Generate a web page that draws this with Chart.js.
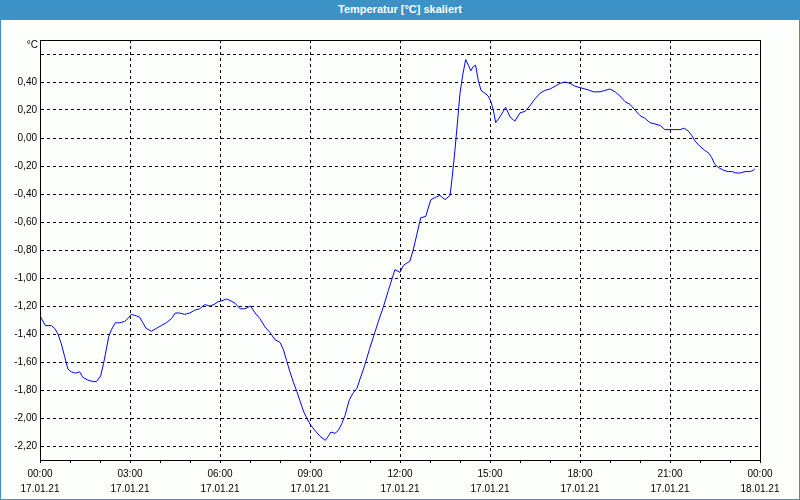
<!DOCTYPE html>
<html>
<head>
<meta charset="utf-8">
<script src="https://cdn.jsdelivr.net/npm/chart.js@4.4.1/dist/chart.umd.min.js"></script>
<style>
    body { margin: 0; }
    #frame {
        position: absolute; left: 0; top: 0;
        width: 798px; height: 499px;
        border: 1px solid #3c91c6; border-top: 0;
        background: #fcfffc;
    }
    #bar {
        height: 20px; background: #3c91c6; color: #fff;
        font: bold 11px "Liberation Sans", Arial, sans-serif;
        text-align: center; line-height: 19px;
    }
    #wrap { position: relative; width: 798px; height: 479px; }
</style>
</head>
<body>
<div id="frame">
    <div id="bar">Temperatur [°C] skaliert</div>
    <div id="wrap"><canvas id="tempChart" width="798" height="479"></canvas></div>
</div>
<script>
const hours = [
    0.00, 0.18, 0.38, 0.49, 0.60, 0.71, 0.82, 0.93, 1.04, 1.18, 1.32, 1.43, 1.60, 1.77, 1.88,
    2.02, 2.12, 2.21, 2.29, 2.38, 2.51, 2.66, 2.82, 2.93, 3.04, 3.21, 3.32, 3.43, 3.54, 3.71,
    3.88, 4.04, 4.21, 4.38, 4.51, 4.66, 4.82, 4.99, 5.16, 5.32, 5.49, 5.66, 5.80, 5.93, 6.10,
    6.21, 6.33, 6.50, 6.67, 6.83, 7.02, 7.17, 7.33, 7.50, 7.67, 7.83, 8.00, 8.11, 8.22, 8.33,
    8.44, 8.56, 8.67, 8.78, 8.89, 9.02, 9.17, 9.33, 9.51, 9.61, 9.70, 9.83, 9.94, 10.06, 10.17,
    10.31, 10.44, 10.56, 10.67, 10.83, 10.98, 11.13, 11.28, 11.44, 11.61, 11.83, 12.00, 12.11, 12.33, 12.44,
    12.56, 12.69, 12.86, 12.94, 13.03, 13.22, 13.33, 13.50, 13.67, 13.74, 13.83, 13.91, 14.00, 14.09, 14.19,
    14.28, 14.36, 14.44, 14.52, 14.61, 14.70, 14.83, 14.94, 15.03, 15.11, 15.19, 15.33, 15.44, 15.52, 15.67,
    15.83, 16.00, 16.17, 16.33, 16.50, 16.67, 16.83, 17.00, 17.17, 17.33, 17.50, 17.67, 17.83, 18.00, 18.17,
    18.33, 18.44, 18.67, 18.83, 19.00, 19.17, 19.33, 19.50, 19.67, 19.83, 20.00, 20.17, 20.33, 20.50, 20.67,
    20.83, 21.00, 21.17, 21.33, 21.48, 21.61, 21.72, 21.83, 22.00, 22.17, 22.30, 22.39, 22.50, 22.61, 22.78,
    22.94, 23.08, 23.19, 23.33, 23.50, 23.67, 23.78, 23.83
];

const temps = [
    -1.27, -1.34, -1.34, -1.36, -1.40, -1.47, -1.56, -1.65, -1.67, -1.68, -1.67, -1.71, -1.73, -1.74, -1.74,
    -1.70, -1.61, -1.51, -1.42, -1.37, -1.32, -1.32, -1.31, -1.29, -1.26, -1.27, -1.28, -1.32, -1.36, -1.38,
    -1.36, -1.34, -1.32, -1.29, -1.25, -1.25, -1.26, -1.25, -1.23, -1.22, -1.19, -1.20, -1.19, -1.17, -1.16,
    -1.15, -1.16, -1.18, -1.22, -1.22, -1.20, -1.25, -1.29, -1.35, -1.39, -1.44, -1.46, -1.51, -1.59, -1.67,
    -1.74, -1.81, -1.88, -1.95, -2.00, -2.05, -2.09, -2.13, -2.16, -2.13, -2.10, -2.11, -2.09, -2.04, -1.98,
    -1.87, -1.82, -1.79, -1.72, -1.62, -1.51, -1.41, -1.31, -1.21, -1.09, -0.94, -0.96, -0.91, -0.88, -0.80,
    -0.69, -0.57, -0.56, -0.50, -0.44, -0.42, -0.41, -0.44, -0.41, -0.28, -0.09, 0.10, 0.32, 0.45, 0.56,
    0.52, 0.48, 0.51, 0.52, 0.41, 0.34, 0.32, 0.30, 0.26, 0.20, 0.11, 0.15, 0.19, 0.22, 0.15,
    0.12, 0.18, 0.19, 0.23, 0.28, 0.32, 0.34, 0.35, 0.37, 0.39, 0.40, 0.39, 0.37, 0.36, 0.35,
    0.34, 0.33, 0.33, 0.34, 0.35, 0.33, 0.30, 0.26, 0.24, 0.20, 0.16, 0.14, 0.11, 0.10, 0.09,
    0.06, 0.06, 0.06, 0.06, 0.07, 0.05, 0.02, -0.02, -0.06, -0.09, -0.11, -0.14, -0.19, -0.21, -0.23,
    -0.24, -0.24, -0.25, -0.25, -0.24, -0.24, -0.23, -0.22
];

const yTicks = [-2.2, -2.0, -1.8, -1.6, -1.4, -1.2, -1.0, -0.8, -0.6, -0.4, -0.2, 0, 0.2, 0.4, 0.6];
const xTickHours = [0, 1, 2, 3, 4, 5, 6, 7, 8, 9, 10, 11, 12, 13, 14, 15, 16, 17, 18, 19, 20, 21, 22, 23, 24];
const xTimeLabels = ['00:00', '03:00', '06:00', '09:00', '12:00', '15:00', '18:00', '21:00', '00:00'];
const xDateLabels = ['17.01.21', '17.01.21', '17.01.21', '17.01.21', '17.01.21', '17.01.21', '17.01.21', '17.01.21', '18.01.21'];

const tickFont = { family: '"Liberation Sans", Arial, sans-serif', size: 10, lineHeight: 1.55 };

// frame round the plot + unit label
const framePlugin = {
    id: 'frame',
    afterDraw(chart) {
        const { ctx, chartArea: a } = chart;
        ctx.save();
        ctx.strokeStyle = '#000';
        ctx.lineWidth = 1;
        ctx.strokeRect(a.left + 0.5, a.top + 0.5, a.right - a.left, a.bottom - a.top);
        ctx.fillStyle = '#000';
        ctx.font = '10px "Liberation Sans", Arial, sans-serif';
        ctx.textAlign = 'right';
        ctx.textBaseline = 'middle';
        ctx.fillText('°C', a.left - 2, a.top + 5);
        ctx.restore();
    }
};

new Chart(document.getElementById('tempChart'), {
    type: 'line',
    data: {
        datasets: [{
            data: hours.map((h, i) => ({ x: h, y: temps[i] })),
            borderColor: '#0000ff',
            borderWidth: 1,
            pointRadius: 0,
            tension: 0,
            fill: false
        }]
    },
    options: {
        responsive: false,
        devicePixelRatio: 1,
        animation: false,
        layout: { padding: { top: 20, right: 39, left: 0, bottom: 0 } },
        plugins: {
            legend: { display: false },
            tooltip: { enabled: false }
        },
        scales: {
            x: {
                type: 'linear',
                min: 0,
                max: 24,
                afterBuildTicks: (scale) => { scale.ticks = xTickHours.map(v => ({ value: v })); },
                afterFit: (scale) => { scale.height = 39; },
                grid: {
                    color: (ctx) => (ctx.tick && ctx.tick.value % 3 === 0) ? '#000' : 'rgba(0,0,0,0)',
                    tickColor: '#000',
                    tickLength: 3,
                    lineWidth: 1
                },
                border: { display: true, color: '#000', dash: [3, 3] },
                ticks: {
                    autoSkip: false,
                    maxRotation: 0,
                    padding: 3,
                    color: '#000',
                    font: tickFont,
                    callback: (value) => value % 3 === 0 ? [xTimeLabels[value / 3], xDateLabels[value / 3]] : ''
                }
            },
            y: {
                min: -2.3,
                max: 0.7,
                afterBuildTicks: (scale) => { scale.ticks = yTicks.map(v => ({ value: v })); },
                afterFit: (scale) => { scale.width = 39; },
                grid: {
                    color: '#000',
                    lineWidth: 1,
                    drawTicks: false
                },
                border: { display: true, color: '#000', dash: [3, 3] },
                ticks: {
                    padding: 3,
                    color: '#000',
                    font: tickFont,
                    callback: (value) => value >= 0.59 ? '' : value.toFixed(2).replace('.', ',')
                }
            }
        }
    },
    plugins: [framePlugin]
});
</script>
</body>
</html>
